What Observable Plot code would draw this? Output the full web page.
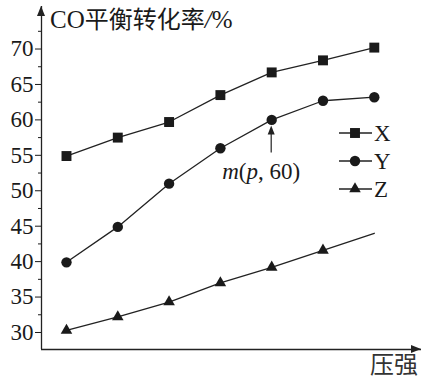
<!DOCTYPE html>
<html><head><meta charset="utf-8">
<script src="https://cdn.jsdelivr.net/npm/d3@7"></script>
<script src="https://cdn.jsdelivr.net/npm/@observablehq/plot@0.6"></script>
<style>
body{margin:0;background:#fff}
svg{display:block}
</style>
</head><body><div id="chart"></div>
<script>
// ---- data ----
const pressure = [1, 2, 3, 4, 5, 6, 7];
const seriesX = [54.9, 57.5, 59.7, 63.5, 66.7, 68.4, 70.2];
const seriesY = [39.9, 44.9, 51.0, 56.0, 60.0, 62.7, 63.2];
const seriesZ = [30.3, 32.2, 34.3, 37.0, 39.2, 41.6, 44.0];
const zMarkerCount = 6; // last Z point drawn as line end only
const seriesNames = ["X", "Y", "Z"];
const seriesSymbols = ["square", "circle", "triangle"];
const yTicks = [30, 35, 40, 45, 50, 55, 60, 65, 70];
const yMinorTicks = [32.5, 37.5, 42.5, 47.5, 52.5, 57.5, 62.5, 67.5, 72.5];
const yLabel = "CO平衡转化率/%";
const xLabel = "压强";
const annotationPoint = {series: "Y", x: 5, y: 60};

// ---- build table ----
const allValues = [seriesX, seriesY, seriesZ];
const rows = [];
seriesNames.forEach((name, si) => {
  allValues[si].forEach((v, i) => rows.push({series: name, p: pressure[i], v, idx: i, symbol: seriesSymbols[si]}));
});
const markerRows = rows.filter(d => !(d.series === "Z" && d.idx >= zMarkerCount));

const xDomain = [0.513, 7.92];
const yDomain = [27.6, 76];
const serif = "'Liberation Serif', 'Times New Roman', serif";
const cjk = "'Noto Sans CJK SC', sans-serif";

const chart = Plot.plot({
  width: 423, height: 381,
  marginLeft: 41, marginRight: 2, marginTop: 6, marginBottom: 32,
  style: {fontFamily: serif, color: "#1a1a1a", background: "#fff"},
  x: {domain: xDomain, axis: null},
  y: {domain: yDomain, axis: null},
  symbol: {domain: seriesSymbols, range: seriesSymbols},
  marks: [
    Plot.axisY({ticks: yMinorTicks, tickSize: 3, tickFormat: () => "", label: null}),
    Plot.axisY({ticks: yTicks, tickSize: 6, tickPadding: 2, fontSize: 23, label: null}),
    // axes lines
    Plot.ruleX([xDomain[0]], {y1: yDomain[0], y2: yDomain[1], stroke: "#222", strokeWidth: 1.3}),
    Plot.ruleY([yDomain[0]], {x1: xDomain[0], x2: xDomain[1], stroke: "#222", strokeWidth: 1.3}),
    Plot.line(rows, {x: "p", y: "v", z: "series", stroke: "#222", strokeWidth: 1.3}),
    Plot.dot(markerRows.filter(d => d.symbol === "square"), {x: "p", y: "v", symbol: "symbol", r: 5.6, fill: "#1a1a1a", stroke: "none"}),
    Plot.dot(markerRows.filter(d => d.symbol === "circle"), {x: "p", y: "v", symbol: "symbol", r: 5.2, fill: "#1a1a1a", stroke: "none"}),
    Plot.dot(markerRows.filter(d => d.symbol === "triangle"), {x: "p", y: "v", symbol: "symbol", r: 4.3, fill: "#1a1a1a", stroke: "none"})
  ]
});
document.getElementById("chart").append(chart);

// ---- decorations: arrows, labels, legend, annotation ----
const svg = d3.select(chart);
const sx = chart.scale("x"), sy = chart.scale("y");
const x0 = sx.apply(xDomain[0]), y0 = sy.apply(yDomain[0]);
const yTop = sy.apply(yDomain[1]), xRight = sx.apply(xDomain[1]);
const g = svg.append("g").attr("text-anchor", "start");
// arrow heads
g.append("path").attr("d", `M${x0},${yTop} l-4,10 l8,0 z`).attr("fill", "#222");
g.append("path").attr("d", `M${xRight},${y0} l-10,-4 l0,8 z`).attr("fill", "#222");
// axis titles
const title = g.append("text").attr("x", x0 + 9).attr("y", 28).attr("text-anchor", "start")
  .attr("font-size", 25).attr("fill", "#1a1a1a");
title.append("tspan").attr("font-family", serif).text(yLabel.slice(0, 2));
title.append("tspan").attr("font-family", cjk).attr("font-size", 24).text(yLabel.slice(2, 7));
title.append("tspan").attr("font-family", serif).attr("font-style", "italic").text(yLabel.slice(7, 8));
title.append("tspan").attr("font-family", serif).text(yLabel.slice(8));
g.append("text").attr("x", xRight - 3).attr("y", 373).attr("text-anchor", "end").attr("font-family", cjk).attr("font-size", 24).attr("fill", "#333")
  .text(xLabel);

// legend
const legendX = 339, legendY = 133, legendStep = 28;
const symSizes = {square: Math.PI * 5.6 * 5.6, circle: Math.PI * 5.2 * 5.2, triangle: Math.PI * 4.3 * 4.3};
const d3sym = {square: d3.symbolSquare, circle: d3.symbolCircle, triangle: d3.symbolTriangle};
seriesNames.forEach((name, i) => {
  const yy = legendY + i * legendStep;
  g.append("line").attr("x1", legendX).attr("x2", legendX + 33).attr("y1", yy).attr("y2", yy).attr("stroke", "#222").attr("stroke-width", 1.3);
  g.append("path").attr("d", d3.symbol(d3sym[seriesSymbols[i]], symSizes[seriesSymbols[i]])())
    .attr("transform", `translate(${legendX + 16},${yy})`).attr("fill", "#1a1a1a");
  g.append("text").attr("x", legendX + 35).attr("y", yy + 8).attr("text-anchor", "start")
    .attr("font-family", serif).attr("font-size", 23).attr("fill", "#1a1a1a").text(name);
});

// annotation m(p, 60)
const ax = sx.apply(annotationPoint.x), ay = sy.apply(annotationPoint.y);
g.append("line").attr("x1", ax).attr("x2", ax).attr("y1", ay + 33).attr("y2", ay + 12).attr("stroke", "#222").attr("stroke-width", 1.2);
g.append("path").attr("d", `M${ax},${ay + 6} l-3.5,9 l7,0 z`).attr("fill", "#222");
const t = g.append("text").attr("x", ax - 10).attr("y", ay + 60).attr("text-anchor", "middle")
  .attr("font-family", serif).attr("font-size", 23).attr("fill", "#1a1a1a");
t.append("tspan").attr("font-style", "italic").text("m");
t.append("tspan").text("(");
t.append("tspan").attr("font-style", "italic").text("p");
t.append("tspan").text(`, ${annotationPoint.y})`);
</script>
</body></html>
